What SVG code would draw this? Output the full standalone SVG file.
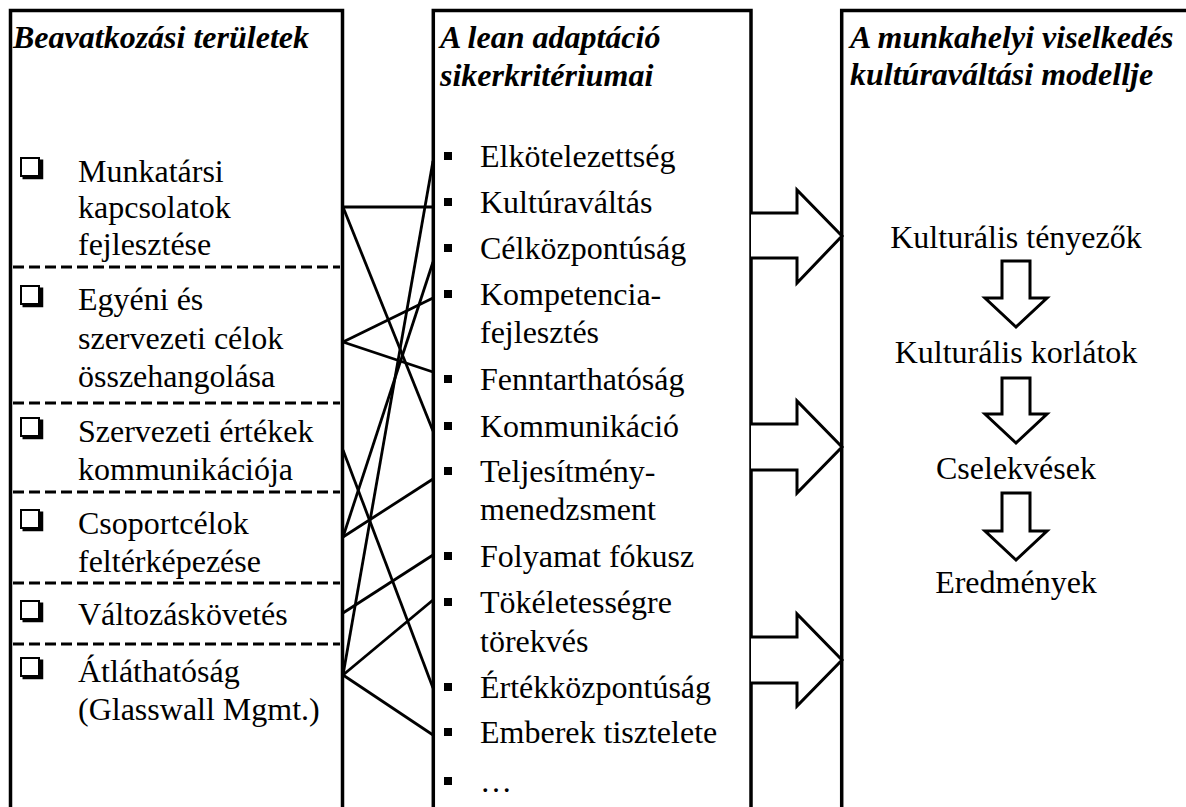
<svg xmlns="http://www.w3.org/2000/svg" xmlns:xlink="http://www.w3.org/1999/xlink" width="1186" height="807" viewBox="0 0 1186 807">
<style>
.t{font-family:"Liberation Serif","Times New Roman",serif;font-size:32px;fill:#000}
.h{font-weight:bold;font-style:italic}
.c{text-anchor:middle}
.box{fill:#fff;stroke:#000;stroke-width:3.5}
.dash{stroke:#000;stroke-width:2.8;stroke-dasharray:11 5;fill:none}
.conn line{stroke:#000;stroke-width:2.8}
.arrow{fill:#fff;stroke:#000;stroke-width:3;stroke-linejoin:miter}
.b{fill:#000}
</style>
<defs>
<g id="cb"><rect x="1" y="1" width="18" height="18" fill="#fff" stroke="#000" stroke-width="2"/><path d="M2.5 20.5 H21.5 V2.5" fill="none" stroke="#000" stroke-width="3.5"/></g>
</defs>
<rect width="1186" height="807" fill="#fff"/>

<g id="left-box">
<rect class="box" x="10.5" y="10.5" width="332" height="830"/>
<text class="t h" x="13" y="48">Beavatkozási területek</text>
<g id="item-munkatarsi"><use xlink:href="#cb" x="20" y="157"/><text class="t" x="78" y="182">Munkatársi</text><text class="t" x="78" y="218">kapcsolatok</text><text class="t" x="78" y="255">fejlesztése</text></g>
<line class="dash" x1="13" y1="267" x2="340" y2="267"/>
<g id="item-egyeni"><use xlink:href="#cb" x="20" y="285"/><text class="t" x="78" y="310">Egyéni és</text><text class="t" x="78" y="349">szervezeti célok</text><text class="t" x="78" y="387">összehangolása</text></g>
<line class="dash" x1="13" y1="403" x2="340" y2="403"/>
<g id="item-ertekek"><use xlink:href="#cb" x="20" y="417"/><text class="t" x="78" y="442">Szervezeti értékek</text><text class="t" x="78" y="480">kommunikációja</text></g>
<line class="dash" x1="13" y1="492" x2="340" y2="492"/>
<g id="item-csoport"><use xlink:href="#cb" x="20" y="509"/><text class="t" x="78" y="534">Csoportcélok</text><text class="t" x="78" y="572">feltérképezése</text></g>
<line class="dash" x1="13" y1="583" x2="340" y2="583"/>
<g id="item-valtozas"><use xlink:href="#cb" x="20" y="600"/><text class="t" x="78" y="625">Változáskövetés</text></g>
<line class="dash" x1="13" y1="644" x2="340" y2="644"/>
<g id="item-atlathatosag"><use xlink:href="#cb" x="20" y="657"/><text class="t" x="78" y="682">Átláthatóság</text><text class="t" x="78" y="720">(Glasswall Mgmt.)</text></g>
</g>

<g id="middle-box">
<rect class="box" x="433.3" y="10.5" width="317.7" height="830"/>
<text class="t h" x="440" y="48">A lean adaptáció</text>
<text class="t h" x="440" y="86">sikerkritériumai</text>
<rect class="b" x="444" y="152" width="8" height="8"/><text class="t" x="480" y="167">Elkötelezettség</text>
<rect class="b" x="444" y="198" width="8" height="8"/><text class="t" x="480" y="213">Kultúraváltás</text>
<rect class="b" x="444" y="244" width="8" height="8"/><text class="t" x="480" y="259">Célközpontúság</text>
<rect class="b" x="444" y="290" width="8" height="8"/><text class="t" x="480" y="305">Kompetencia-</text><text class="t" x="480" y="343">fejlesztés</text>
<rect class="b" x="444" y="375" width="8" height="8"/><text class="t" x="480" y="390">Fenntarthatóság</text>
<rect class="b" x="444" y="422" width="8" height="8"/><text class="t" x="480" y="437">Kommunikáció</text>
<rect class="b" x="444" y="467" width="8" height="8"/><text class="t" x="480" y="482">Teljesítmény-</text><text class="t" x="480" y="520">menedzsment</text>
<rect class="b" x="444" y="552" width="8" height="8"/><text class="t" x="480" y="567">Folyamat fókusz</text>
<rect class="b" x="444" y="598" width="8" height="8"/><text class="t" x="480" y="613">Tökéletességre</text><text class="t" x="480" y="652">törekvés</text>
<rect class="b" x="444" y="683" width="8" height="8"/><text class="t" x="480" y="698">Értékközpontúság</text>
<rect class="b" x="444" y="728" width="8" height="8"/><text class="t" x="480" y="743">Emberek tisztelete</text>
<rect class="b" x="444" y="777" width="8" height="8"/><text class="t" x="480" y="792">…</text>
</g>

<g id="right-box">
<rect class="box" x="841.7" y="10.5" width="400" height="830"/>
<text class="t h" x="850" y="48">A munkahelyi viselkedés</text>
<text class="t h" x="850" y="85">kultúraváltási modellje</text>
<text class="t c" x="1016" y="248">Kulturális tényezők</text>
<polygon class="arrow" points="1002,261 1030,261 1030,298 1047,298 1016,327 985,298 1002,298"/>
<text class="t c" x="1016" y="363">Kulturális korlátok</text>
<polygon class="arrow" points="1002,378 1030,378 1030,414 1047,414 1016,443 985,414 1002,414"/>
<text class="t c" x="1016" y="479">Cselekvések</text>
<polygon class="arrow" points="1002,493 1030,493 1030,531 1047,531 1016,560 985,531 1002,531"/>
<text class="t c" x="1016" y="593">Eredmények</text>
</g>

<g id="connectors" class="conn">
<line x1="343" y1="207" x2="433" y2="207"/>
<line x1="343" y1="207" x2="433" y2="431"/>
<line x1="343" y1="342" x2="433" y2="298"/>
<line x1="343" y1="342" x2="433" y2="372"/>
<line x1="343" y1="450" x2="433" y2="688"/>
<line x1="343" y1="537" x2="433" y2="479"/>
<line x1="343" y1="537" x2="433" y2="262"/>
<line x1="343" y1="613" x2="433" y2="555"/>
<line x1="343" y1="675" x2="433" y2="600"/>
<line x1="343" y1="675" x2="433" y2="735"/>
<line x1="343" y1="675" x2="433" y2="161"/>
</g>

<g id="flow-arrows">
<path class="arrow" d="M751 213 H797 V190 L842 236 L797 283 V258 H751"/>
<path class="arrow" d="M751 424 H797 V401 L842 447 L797 493 V470 H751"/>
<path class="arrow" d="M751 637 H797 V614 L842 660 L797 706 V683 H751"/>
</g>
</svg>
